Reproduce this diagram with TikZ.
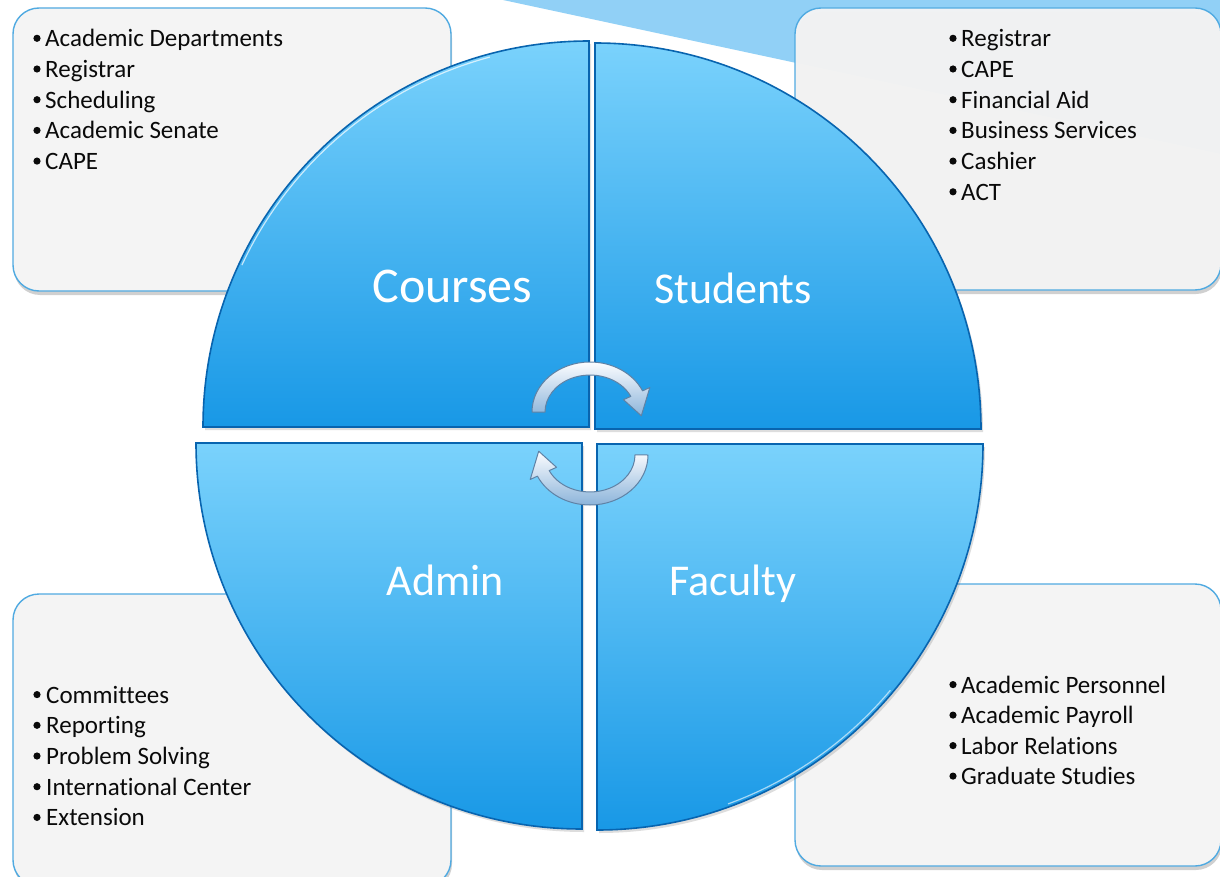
\documentclass[tikz,border=0pt]{standalone}
\usepackage{fontspec}
\setmainfont{Carlito}[Ligatures=NoCommon]
\usetikzlibrary{shadows}
\definecolor{boxfill}{RGB}{244,244,244}
\definecolor{boxline}{RGB}{80,170,225}
\definecolor{qlight}{RGB}{122,210,252}
\definecolor{qdark}{RGB}{24,152,230}
\definecolor{qline}{RGB}{8,100,175}
\definecolor{tri}{RGB}{145,208,246}
\definecolor{arrlight}{RGB}{252,253,255}
\definecolor{arrdark}{RGB}{140,180,218}
\definecolor{arrline}{RGB}{95,130,165}
\definecolor{itemtext}{RGB}{10,10,10}
\begin{document}
\begin{tikzpicture}[x=1pt,y=-1pt,
  infobox/.style={fill=boxfill, draw=boxline, line width=1.4pt, rounded corners=26pt,
    drop shadow={shadow xshift=1pt, shadow yshift=-4pt, opacity=0.3, fill=black!60}},
  quad/.style={draw=qline, line width=1.6pt, top color=qlight, bottom color=qdark,
    drop shadow={shadow xshift=2pt, shadow yshift=-3pt, opacity=0.22, fill=black!60}},
  cyclearrow/.style={draw=arrline, line width=1pt, top color=arrlight, bottom color=arrdark, line join=round},
  qtitle/.style={text=white, font=\fontsize{44}{50}\selectfont, inner sep=0pt, anchor=base},
  item/.style={text=itemtext, font=\fontsize{25}{30}\selectfont, inner sep=0pt, anchor=base west},
  bulletdot/.style={fill=itemtext}]
\useasboundingbox (0,0) rectangle (1220,877);
\clip (0,0) rectangle (1220,877);
\fill[white] (0,0) rectangle (1220,877);
% light blue band at the top
\fill[tri] (503,0) -- (1225,0) -- (1225,155) -- cycle;
% information boxes
\path[infobox] (13,8) rectangle (451,291);
\path[infobox, fill opacity=0.97] (795,8) rectangle (1221,290);
\path[infobox] (13,594) rectangle (451,886);
\path[infobox] (795,584) rectangle (1221,866);
% circle quadrants
\path[quad] (589,427) -- (203,427) arc[start angle=180, end angle=270, radius=386] -- cycle;
\path[quad] (595,429) -- (595,43) arc[start angle=270, end angle=360, radius=386] -- cycle;
\path[quad] (582,443) -- (196,443) arc[start angle=180, end angle=90, radius=386] -- cycle;
\path[quad] (597,444) -- (983,444) arc[start angle=0, end angle=90, radius=386] -- cycle;
% highlights along the rims
\draw[white, opacity=0.7, line width=1.2pt] (589,427) ++(205:383) arc[start angle=205, end angle=255, radius=383];
\draw[white, opacity=0.6, line width=1.2pt] (597,444) ++(40:383) arc[start angle=40, end angle=70, radius=383];
% cycle arrows
\path[cyclearrow] (532,412) arc[start angle=180, end angle=335, x radius=58, y radius=50]
  -- (649.8,387.5) -- (641.3,415.8) -- (623.5,399.7) -- (630.8,396.4)
  arc[start angle=335, end angle=180, x radius=45, y radius=37] -- cycle;
\path[cyclearrow] (648,455) arc[start angle=0, end angle=155, x radius=58, y radius=50]
  -- (530.2,479.5) -- (538.7,451.2) -- (556.5,467.3) -- (549.2,470.6)
  arc[start angle=155, end angle=0, x radius=45, y radius=37] -- cycle;
% titles
\node[qtitle, font=\fontsize{50}{56}\selectfont] (courses) at (452.5,302.5) {Courses};
\node[qtitle] (students) at (733,303) {Students};
\node[qtitle] (admin) at (445,595) {Admin};
\node[qtitle] (faculty) at (733,595) {Faculty};
% lists
\foreach \t [count=\i] in {Academic Departments, Registrar, Scheduling, Academic Senate, CAPE} {
  \node[item] (tl\i) at (45,{46.7+30.7*(\i-1)}) {\t};
  \fill[bulletdot] (37,{46.7+30.7*(\i-1)-8.4}) circle (3.6);
}
\foreach \t [count=\i] in {Registrar, CAPE, Financial Aid, Business Services, Cashier, ACT} {
  \node[item] (tr\i) at (961,{46.7+30.7*(\i-1)}) {\t};
  \fill[bulletdot] (953,{46.7+30.7*(\i-1)-8.4}) circle (3.6);
}
\foreach \t [count=\i] in {Committees, Reporting, Problem Solving, International Center, Extension} {
  \node[item] (bl\i) at (46,{703+30.7*(\i-1)}) {\t};
  \fill[bulletdot] (37,{703+30.7*(\i-1)-8.4}) circle (3.6);
}
\foreach \t [count=\i] in {Academic Personnel, Academic Payroll, Labor Relations, Graduate Studies} {
  \node[item] (br\i) at (961,{693+30.5*(\i-1)}) {\t};
  \fill[bulletdot] (953,{693+30.5*(\i-1)-8.4}) circle (3.6);
}
\end{tikzpicture}
\end{document}
